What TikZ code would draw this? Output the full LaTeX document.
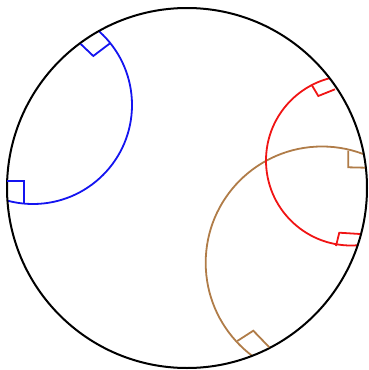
\documentclass[tikz,border=0pt]{standalone}
\begin{document}
\begin{tikzpicture}[x=1pt,y=-1pt]
\definecolor{gblue}{RGB}{20,20,240}
\definecolor{gred}{RGB}{240,20,20}
\definecolor{gbrown}{RGB}{176,124,72}
\tikzset{
  bigc/.style={draw=black, line width=2pt},
  geo/.style={line width=1.8pt},
  rmark/.style={line width=1.8pt, line join=miter}
}
\useasboundingbox (0,0) rectangle (368,370);
\begin{scope}
  \clip (187,188) circle (180pt);
  \draw[geo, gbrown] (322,262.8) circle (116.3pt);
  \draw[geo, gred] (351,160.5) circle (85pt);
  \draw[geo, gblue] (33,105) circle (99pt);
\end{scope}
\draw[bigc] (187,188) circle (180pt);
% right-angle marks
\draw[rmark, gblue] (80.7,44) -- (93.3,56) -- (110,43.3);
\draw[rmark, gblue] (7.3,181.3) -- (24.3,181.3) -- (24.3,203.3);
\draw[rmark, gred] (311.7,85) -- (318.3,96) -- (335,89.3);
\draw[rmark, gred] (336,246) -- (339.3,232.7) -- (360,234);
\draw[rmark, gbrown] (348.3,150.7) -- (348.3,167.3) -- (365,167.7);
\draw[rmark, gbrown] (237.3,341) -- (253.3,330.7) -- (269.3,347.3);
\end{tikzpicture}
\end{document}
